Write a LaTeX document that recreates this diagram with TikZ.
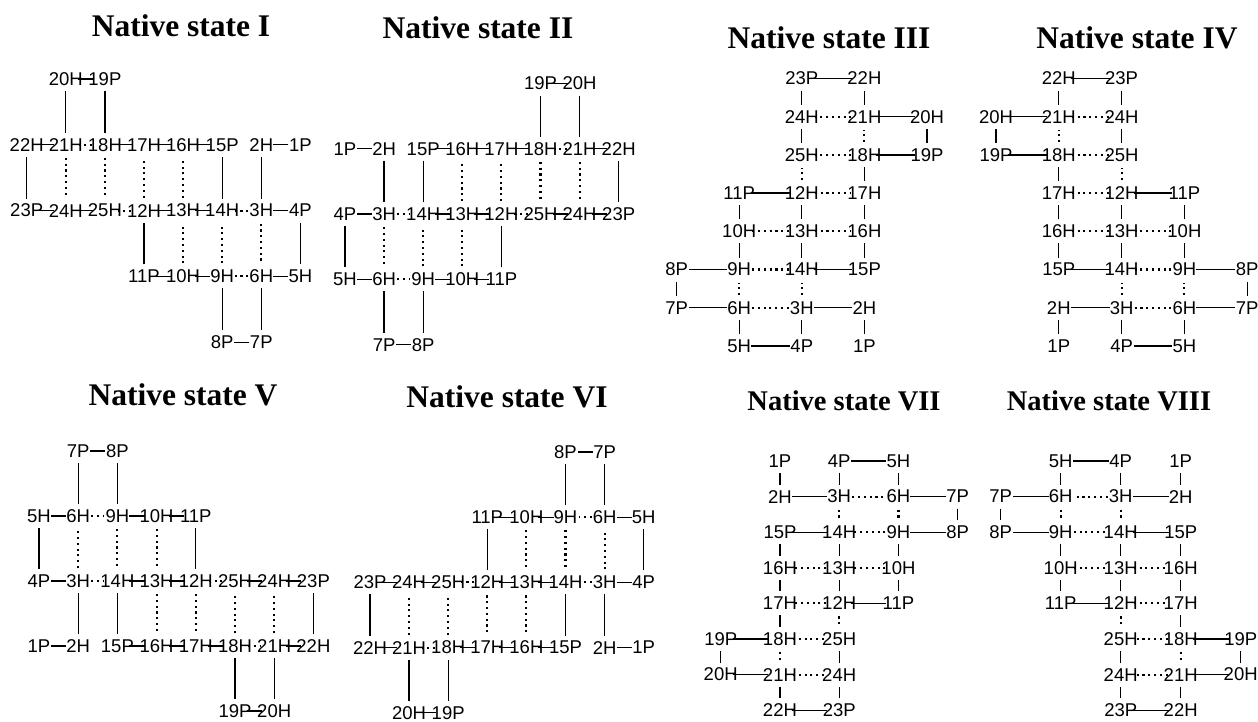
\documentclass[tikz,border=0pt]{standalone}
\usepackage{fontspec}
\setmainfont{Liberation Serif}
\newfontfamily\labfont{Liberation Sans}
\tikzset{
  lab/.style={font=\labfont\fontsize{18.5}{20}\selectfont, inner sep=0pt},
  bond/.style={line width=1.3pt, shorten <=12pt, shorten >=12pt},
  contact/.style={line width=2.1pt, dash pattern=on 2.1pt off 3.7pt, shorten <=13pt, shorten >=13pt},
  head/.style={font=\bfseries\fontsize{31.5}{34}\selectfont, inner sep=0pt, anchor=base},
  headsm/.style={head, font=\bfseries\fontsize{28.5}{31}\selectfont},
}
% #1 prefix, x = #2 + #3*c + #4*r, y = #5 + #6*c + #7*r
\newcommand\foldpanel[7]{%
  \foreach \i/\t/\c/\r in {1/P/7/1, 2/H/6/1, 3/H/6/2, 4/P/7/2, 5/H/7/3, 6/H/6/3,
      7/P/6/4, 8/P/5/4, 9/H/5/3, 10/H/4/3, 11/P/3/3, 12/H/3/2, 13/H/4/2,
      14/H/5/2, 15/P/5/1, 16/H/4/1, 17/H/3/1, 18/H/2/1, 19/P/2/0, 20/H/1/0,
      21/H/1/1, 22/H/0/1, 23/P/0/2, 24/H/1/2, 25/H/2/2} {
    \node[lab] (#1\i) at ({#2+(#3)*\c+(#4)*\r},{#5+(#6)*\c+(#7)*\r}) {\i\t};
  }
  \foreach \i in {1,...,24} {
    \pgfmathtruncatemacro\j{\i+1}
    \draw[bond] (#1\i.center) -- (#1\j.center);
  }
  \foreach \a/\b in {21/24, 18/21, 18/25, 12/25, 12/17, 10/13, 13/16, 9/14, 6/9, 3/14, 3/6}
    \draw[contact] (#1\a.center) -- (#1\b.center);
}
\begin{document}
\begin{tikzpicture}[x=1pt,y=-1pt]
\useasboundingbox[fill=white] (0,0) rectangle (1258,721);
% headings
\node[head] (hI) at (181,36.5) {Native state I};
\node[head] (hII) at (478,38) {Native state II};
\node[head] (hIII) at (829,48) {Native state III};
\node[head] (hIV) at (1137,48) {Native state IV};
\node[head] (hV) at (183,405) {Native state V};
\node[head] (hVI) at (507,407) {Native state VI};
\node[headsm] (hVII) at (844,410) {Native state VII};
\node[headsm] (hVIII) at (1109,410) {Native state VIII};
% panels
\foldpanel{a}{26.7}{39.1}{0}{79}{0}{65.8}
\foldpanel{b}{618.7}{-39.1}{0}{83.5}{0}{65.3}
\foldpanel{c}{927}{0}{-62.6}{78.5}{38.2}{0}
\foldpanel{d}{996}{0}{62.8}{78.5}{38.2}{0}
\foldpanel{e}{313.4}{-39.2}{0}{711}{0}{-65}
\foldpanel{f}{370}{39.1}{0}{712.8}{0}{-65.2}
\foldpanel{g}{720.7}{0}{59.25}{710.2}{-35.6}{0}
\foldpanel{h}{1240.7}{0}{-60}{710.2}{-35.6}{0}
\end{tikzpicture}
\end{document}
